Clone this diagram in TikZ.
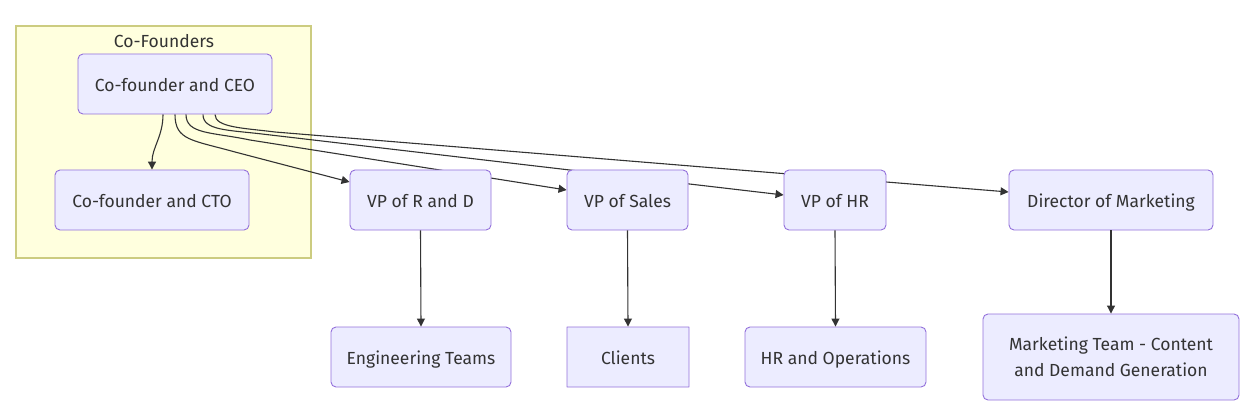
\documentclass[tikz,border=0pt]{standalone}
\usepackage{fontspec}
\setmainfont{Fira Sans}
\usetikzlibrary{arrows.meta,backgrounds}

\definecolor{boxfill}{HTML}{ECECFF}
\definecolor{boxline}{HTML}{9370DB}
\definecolor{grpfill}{HTML}{FFFFDE}
\definecolor{grpline}{HTML}{CCCC80}
\definecolor{ink}{HTML}{333333}

\tikzset{
  role/.style={draw=boxline, fill=boxfill, line width=0.9pt, rounded corners=5pt,
    minimum height=60pt, text=ink, font=\fontsize{17.5}{26}\selectfont, inner sep=0pt},
  oneline/.style={text height=16pt, text depth=1.5pt},
  flatrole/.style={role, oneline, rounded corners=0.3pt},
  group/.style={draw=grpline, fill=grpfill, line width=1.2pt},
  link/.style={draw=ink, line width=1.1pt, -{Triangle[length=8pt,width=8pt]}}
}

\begin{document}
\begin{tikzpicture}[x=1pt,y=-1pt]
    \useasboundingbox (0,0) rectangle (1252,414);

    % Founders group
    \node[role, oneline, minimum width=194pt] (ceo) at (175,84) {Co-founder and CEO};
    \node[role, oneline, minimum width=194pt] (cto) at (152,200) {Co-founder and CTO};
    \node[text=ink, font=\fontsize{17.5}{26}\selectfont] (grptitle) at (164,41) {Co-Founders};

    % Direct reports
    \node[role, oneline, minimum width=141pt] (vprd) at (420.5,200) {VP of R and D};
    \node[role, oneline, minimum width=121pt] (vpsales) at (627.5,200) {VP of Sales};
    \node[role, oneline, minimum width=102pt] (vphr) at (835,200) {VP of HR};
    \node[role, oneline, minimum width=204pt] (dirmkt) at (1111,200) {Director of Marketing};

    % Teams
    \node[role, oneline, minimum width=180pt] (engteams) at (421,357) {Engineering Teams};
    \node[flatrole, minimum width=122pt] (clients) at (628,357) {Clients};
    \node[role, oneline, minimum width=181pt] (hrops) at (835.5,357) {HR and Operations};
    \node[role, minimum width=256pt, minimum height=86pt, align=center] (mktteam) at (1111,357)
      {Marketing Team - Content\\and Demand Generation};

    \begin{scope}[on background layer]
      \draw[group] (16,26) rectangle (311,258);

      % CEO links
      \draw[link] ([xshift=-12pt]ceo.south) .. controls +(0,22) and +(0,-22) .. (cto.north);
      \draw[link] (ceo.south) .. controls +(0,26) and (192,140) .. (235,152) -- (vprd.west |- 0,182);
      \draw[link] ([xshift=11pt]ceo.south) .. controls +(0,20) and (212,132) .. (250,140) -- (vpsales.west |- 0,190);
      \draw[link] ([xshift=28pt]ceo.south) .. controls +(0,16) and (228,130) .. (262,134) -- (vphr.west |- 0,195);
      \draw[link] ([xshift=40pt]ceo.south) .. controls +(0,13) and (243,128) .. (275,132) -- (dirmkt.west |- 0,192);
    \end{scope}

    % Team links
    \draw[link] (vprd.south) -- (engteams.north);
    \draw[link] (vpsales.south) -- (clients.north);
    \draw[link] (vphr.south) -- (hrops.north);
    \draw[link] (dirmkt.south) -- (mktteam.north);
\end{tikzpicture}
\end{document}
